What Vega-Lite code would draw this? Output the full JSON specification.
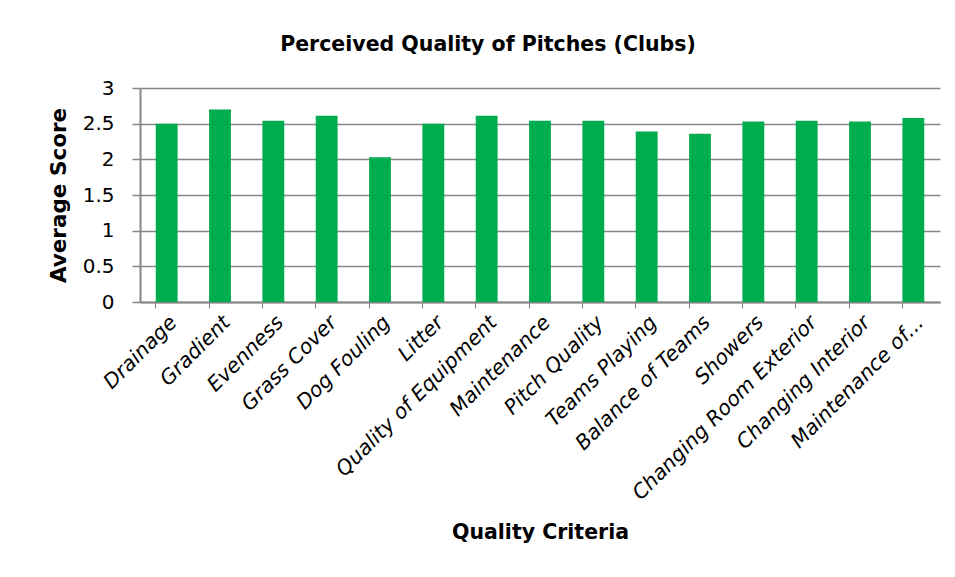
{
  "$schema": "https://vega.github.io/schema/vega-lite/v6.json",
  "width": 800,
  "height": 214,
  "autosize": {"type": "none"},
  "padding": {"left": 140, "top": 88, "right": 15, "bottom": 275},
  "background": "white",
  "title": {
    "text": "Perceived Quality of Pitches (Clubs)",
    "font": "DejaVu Sans",
    "fontSize": 20.5,
    "fontWeight": "bold",
    "color": "#000000",
    "anchor": "middle",
    "frame": "group",
    "dx": -52,
    "offset": 23
  },
  "data": {
    "values": [
      {"criterion": "Drainage", "score": 2.5},
      {"criterion": "Gradient", "score": 2.7},
      {"criterion": "Evenness", "score": 2.54},
      {"criterion": "Grass Cover", "score": 2.61},
      {"criterion": "Dog Fouling", "score": 2.03},
      {"criterion": "Litter", "score": 2.5},
      {"criterion": "Quality of Equipment", "score": 2.61},
      {"criterion": "Maintenance", "score": 2.54},
      {"criterion": "Pitch Quality", "score": 2.54},
      {"criterion": "Teams Playing", "score": 2.39},
      {"criterion": "Balance of Teams", "score": 2.36},
      {"criterion": "Showers", "score": 2.53},
      {"criterion": "Changing Room Exterior", "score": 2.54},
      {"criterion": "Changing Interior", "score": 2.53},
      {"criterion": "Maintenance of...", "score": 2.58}
    ]
  },
  "mark": {"type": "bar", "color": "#00AD4E"},
  "encoding": {
    "x": {
      "field": "criterion",
      "type": "nominal",
      "sort": null,
      "scale": {"paddingInner": 0.59, "paddingOuter": 0.295},
      "axis": {
        "title": "Quality Criteria",
        "titleFont": "DejaVu Sans",
        "titleFontSize": 20.5,
        "titleFontWeight": "bold",
        "titleColor": "#000000",
        "titlePadding": 20,
        "labelFont": "DejaVu Sans",
        "labelFontSize": 20.5,
        "labelFontStyle": "italic",
        "labelColor": "#000000",
        "labelAngle": -45,
        "labelAlign": "right",
        "labelBaseline": "top",
        "labelPadding": 4,
        "labelLimit": 400,
        "bandPosition": 0,
        "tickColor": "#868686",
        "tickSize": 6,
        "domainColor": "#868686",
        "domainWidth": 2,
        "grid": false
      }
    },
    "y": {
      "field": "score",
      "type": "quantitative",
      "scale": {"domain": [0, 3], "nice": false},
      "axis": {
        "title": "Average Score",
        "titleFont": "DejaVu Sans",
        "titleFontSize": 21.5,
        "titleFontWeight": "bold",
        "titleColor": "#000000",
        "titlePadding": 12,
        "values": [0, 0.5, 1, 1.5, 2, 2.5, 3],
        "format": "~g",
        "labelFont": "DejaVu Sans",
        "labelFontSize": 20,
        "labelColor": "#000000",
        "labelPadding": 18,
        "tickColor": "#868686",
        "tickSize": 8,
        "tickWidth": 1.5,
        "domainColor": "#868686",
        "domainWidth": 2,
        "gridColor": "#868686",
        "gridWidth": 1.5
      }
    }
  },
  "config": {"view": {"stroke": null}}
}
